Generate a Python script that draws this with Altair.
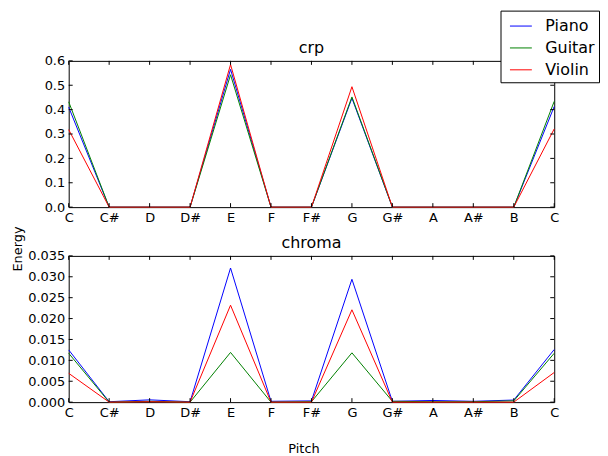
import json
import altair as alt
import pandas as pd

pitches = ["C", "C#", "D", "D#", "E", "F", "F#", "G", "G#", "A", "A#", "B", "C"]
instruments = ["Piano", "Guitar", "Violin"]
colors = ["#0000ff", "#008000", "#ff0000"]

crp_piano = [0.41, 0, 0, 0, 0.565, 0, 0, 0.447, 0, 0, 0, 0, 0.413]
crp_guitar = [0.432, 0, 0, 0, 0.543, 0, 0, 0.452, 0, 0, 0, 0, 0.434]
crp_violin = [0.318, 0, 0, 0, 0.585, 0, 0, 0.494, 0, 0, 0, 0, 0.321]

chroma_piano = [0.0125, 0.0001, 0.00055, 0.0001, 0.0321, 0.0002, 0.0003, 0.0294, 0.0002, 0.0004, 0.0002, 0.0005, 0.0126]
chroma_guitar = [0.0117, 0.0, 0.0002, 0.0, 0.0119, 0.0, 0.0001, 0.0118, 0.0002, 0.0001, 0.0001, 0.0003, 0.0117]
chroma_violin = [0.0069, 0.0, 0.0001, 0.0, 0.0232, 0.0, 0.0, 0.0221, 0.0, 0.0, 0.0, 0.0, 0.0071]

crp_ticks = [0.0, 0.1, 0.2, 0.3, 0.4, 0.5, 0.6]
chroma_ticks = [0.0, 0.005, 0.010, 0.015, 0.020, 0.025, 0.030, 0.035]

W, H = 488, 147
FONT = "DejaVu Sans"
TL = 4


def long_df(series):
    rows = []
    for name, vals in zip(instruments, series):
        for i, v in enumerate(vals):
            rows.append({"idx": i, "instrument": name, "value": v})
    return pd.DataFrame(rows)


label_expr = json.dumps(pitches) + "[datum.value]"

legend = alt.Legend(title=None, orient="none", legendX=434, legendY=-50.5)


def panel(series, ymax, yticks, title, ylabel_expr, bottom):
    df = long_df(series)
    xscale = alt.Scale(domain=[0, 12], nice=False, zero=False)
    yscale = alt.Scale(domain=[0, ymax], nice=False)
    xaxis_kwargs = dict(values=list(range(13)), labelExpr=label_expr, title=None)
    if bottom:
        xaxis_kwargs.update(title="Pitch", titleX=236, titleY=51, titleAlign="center",
                            titleBaseline="alphabetic", titleFontSize=13, titleFont=FONT,
                            titleFontWeight="normal", titleColor="black")
    yaxis_kwargs = dict(values=yticks, title=None, labelExpr=ylabel_expr)
    if not bottom:
        yaxis_kwargs.update(title="Energy", titleX=-51, titleY=188.5, titleAngle=270,
                            titleAlign="center", titleBaseline="middle", titleFontSize=13,
                            titleFont=FONT, titleFontWeight="normal", titleColor="black")
    xaxis = alt.Axis(**xaxis_kwargs)
    yaxis = alt.Axis(**yaxis_kwargs)
    line = alt.Chart(df).mark_line(strokeWidth=1).encode(
        x=alt.X("idx:Q", scale=xscale, axis=xaxis),
        y=alt.Y("value:Q", scale=yscale, axis=yaxis),
        color=alt.Color("instrument:N",
                        scale=alt.Scale(domain=instruments, range=colors),
                        sort=instruments, legend=legend),
    )
    xt = pd.DataFrame({"idx": list(range(13))})
    yt = pd.DataFrame({"value": yticks})
    xtop = alt.Chart(xt).mark_rule(color="black", strokeWidth=1).encode(
        x=alt.X("idx:Q", scale=xscale, axis=xaxis), y=alt.value(0), y2=alt.value(TL))
    xbot = alt.Chart(xt).mark_rule(color="black", strokeWidth=1).encode(
        x=alt.X("idx:Q", scale=xscale, axis=xaxis), y=alt.value(H - TL), y2=alt.value(H))
    yl = alt.Chart(yt).mark_rule(color="black", strokeWidth=1).encode(
        y=alt.Y("value:Q", scale=yscale, axis=yaxis), x=alt.value(0), x2=alt.value(TL))
    yr = alt.Chart(yt).mark_rule(color="black", strokeWidth=1).encode(
        y=alt.Y("value:Q", scale=yscale, axis=yaxis), x=alt.value(W - TL), x2=alt.value(W))
    return alt.layer(line, xtop, xbot, yl, yr).properties(
        width=W, height=H,
        title=alt.TitleParams(title, fontSize=16, font=FONT, fontWeight="normal",
                              color="black", anchor="middle", frame="group", offset=-1),
    )


top = panel([crp_piano, crp_guitar, crp_violin], 0.6, crp_ticks, "crp",
            "format(datum.value, '.1f')", False)
bot = panel([chroma_piano, chroma_guitar, chroma_violin], 0.035, chroma_ticks, "chroma",
            "format(datum.value, '.3f')", True)

chart = alt.vconcat(top, bot, spacing=49, bounds="flush").properties(
    padding={"left": 3, "top": 1, "right": 0, "bottom": 0}
).configure_view(
    stroke="black", strokeWidth=1
).configure_axis(
    grid=False, domain=False, ticks=False, labelFont=FONT, labelFontSize=13,
    labelColor="black", labelPadding=4, minExtent=40, maxExtent=40,
    labelOverlap=False, labelFlush=False
).configure_legend(
    strokeColor="black", fillColor="white", padding=4, symbolType="stroke",
    symbolSize=484, symbolStrokeWidth=1, labelFont=FONT, labelFontSize=16,
    labelColor="black", rowPadding=2, labelOffset=13, symbolOpacity=1, symbolOffset=5
)

chart.save("out.html", embed_options={"renderer": "svg", "actions": False})
